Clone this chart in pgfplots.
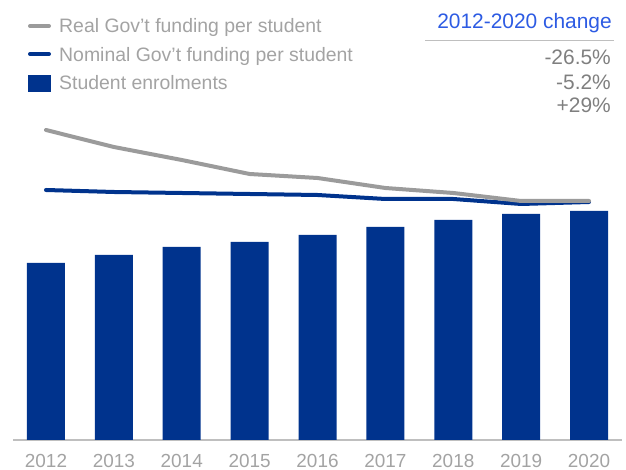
\documentclass[border=0pt]{standalone}
\usepackage{fontspec}
\setmainfont{Liberation Sans}
\usepackage{pgfplots}
\pgfplotsset{compat=1.18}

\definecolor{navy}{HTML}{00338D}
\definecolor{linegrey}{HTML}{9B9B9B}
\definecolor{txtgrey}{HTML}{A3A3A3}
\definecolor{valgrey}{HTML}{7F7F7F}
\definecolor{axisgrey}{HTML}{BFBFBF}
\definecolor{titleblue}{HTML}{2D5BE3}

\begin{document}
\begin{tikzpicture}[x=1bp,y=1bp]
\path[use as bounding box] (0,0) rectangle (626,470);
\begin{axis}[
  at={(13bp,30bp)}, anchor=south west,
  scale only axis, width=609bp, height=320bp,
  xmin=-0.486, xmax=8.486, ymin=0, ymax=320,
  axis x line=bottom, axis y line=none,
  x axis line style={draw=axisgrey, line width=1.2bp, -},
  xtick={0,...,8},
  xticklabels={2012,2013,2014,2015,2016,2017,2018,2019,2020},
  major tick length=0pt,
  xticklabel style={font=\fontsize{19}{20}\selectfont, text=txtgrey,
    inner sep=0pt, anchor=north, yshift=-14bp},
  clip=false,
]
% student enrolments (bars)
\addplot[ybar, bar width=38bp, bar shift=0pt, fill=navy, draw=none]
  coordinates {(0,177) (1,185) (2,193) (3,198) (4,205) (5,213) (6,220) (7,226) (8,229)};
% nominal funding per student
\addplot[navy, line width=4bp, line join=round, line cap=round]
  coordinates {(0,250) (1,248) (2,247) (3,246) (4,245) (5,241) (6,241) (7,236) (8,238)};
% real funding per student
\addplot[linegrey, line width=4bp, line join=round, line cap=round]
  coordinates {(0,310) (1,293) (2,280) (3,266) (4,262) (5,252) (6,247) (7,239) (8,239)};
\end{axis}

% legend
\draw[linegrey, line width=4bp, line cap=round] (30,444) -- (49,444);
\draw[navy, line width=4bp, line cap=round] (30,416) -- (49,416);
\fill[navy] (28,378) rectangle (51,395);
\begin{scope}[every node/.style={anchor=base west, inner sep=0pt, text=txtgrey,
    font=\fontsize{19.5}{20}\selectfont}]
\node at (59,437) {Real Gov’t funding per student};
\node at (59,408) {Nominal Gov’t funding per student};
\node at (59,380) {Student enrolments};
\end{scope}

% change table
\node[anchor=base east, inner sep=0pt, text=titleblue, font=\fontsize{21}{22}\selectfont]
  at (612,441) {2012-2020 change};
\draw[axisgrey, line width=1bp] (425,429.3) -- (614,429.3);
\begin{scope}[every node/.style={anchor=base east, inner sep=0pt, text=valgrey,
    font=\fontsize{21}{22}\selectfont}]
\node at (611,405) {-26.5\%};
\node at (611,380) {-5.2\%};
\node at (611,357) {+29\%};
\end{scope}
\end{tikzpicture}
\end{document}
